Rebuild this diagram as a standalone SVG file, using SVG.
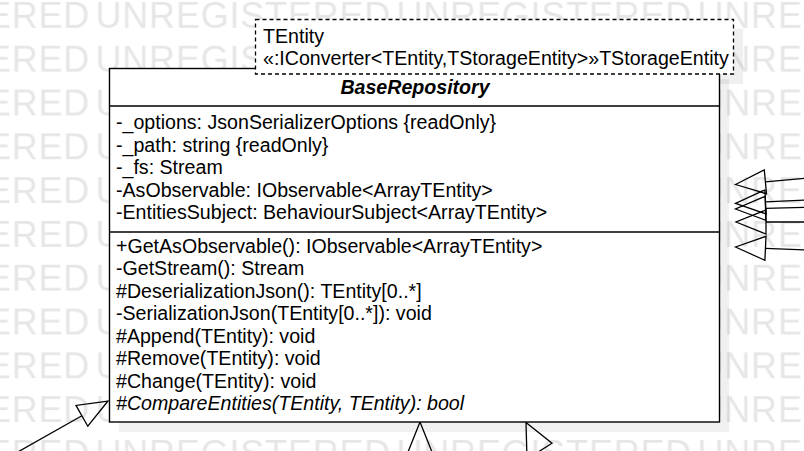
<svg xmlns="http://www.w3.org/2000/svg" width="804" height="451" viewBox="0 0 804 451">
<style>
.t{font-family:"Liberation Sans",Arial,sans-serif;font-size:19.6px;fill:#000}
.b{font-weight:bold;font-style:italic}
.i{font-style:italic}
.wm{font-family:"Liberation Sans",Arial,sans-serif;font-size:36px;letter-spacing:0.8px;fill:#e6e6e6}
.edge{stroke:#000;stroke-width:1.3;fill:none}
.head{fill:none;stroke:#000;stroke-width:1.3;stroke-linejoin:miter}
.shadow{fill:#000;fill-opacity:0.06}
.box{fill:#fff;stroke:#000;stroke-width:1.4}
.tpl{fill:#fff;stroke:#000;stroke-width:1.3;stroke-dasharray:4 3}
.sep{stroke:#000;stroke-width:1.4}
</style>
<defs>
<pattern id="wmp" x="95.5" y="-3" width="301" height="43.8" patternUnits="userSpaceOnUse">
<text class="wm" x="0" y="30.5">UNREGISTERED</text>
</pattern>
</defs>
<rect width="804" height="451" fill="#fff"/>
<g id="watermark"><rect width="804" height="451" fill="url(#wmp)"/></g>
<g id="connectors">
<line class="edge" x1="81.9" y1="415.8" x2="3.6" y2="460"/>
<polygon class="head" points="108,401 87.8,426.2 76,405.4"/>
<line class="edge" x1="420" y1="452" x2="420" y2="470"/>
<polygon class="head" points="420,422 408,452 432,452"/>
<line class="edge" x1="539.5" y1="451.2" x2="555" y2="480"/>
<polygon class="head" points="526,422.5 552,443.3 527,459"/>
<line class="edge" x1="765.4" y1="181.8" x2="830" y2="176"/>
<polygon class="head" points="735.5,184.5 766.5,193.8 764.3,169.9"/>
<line class="edge" x1="765.5" y1="201.9" x2="830" y2="198.8"/>
<polygon class="head" points="735.5,203.3 766,213.9 764.9,189.9"/>
<line class="edge" x1="765.5" y1="208.3" x2="830" y2="206.9"/>
<polygon class="head" points="735.5,209 765.8,220.3 765.2,196.3"/>
<line class="edge" x1="766" y1="222" x2="830" y2="222"/>
<polygon class="head" points="736,222 766,234 766,210"/>
<line class="edge" x1="765.5" y1="248.3" x2="830" y2="251.1"/>
<polygon class="head" points="735.5,247 764.9,260.3 766,236.3"/>
</g>
<g id="BaseRepository">
<rect class="shadow" x="119" y="79" width="610" height="353"/>
<rect class="shadow" x="265" y="29" width="478" height="55"/>
<rect class="box" x="109.5" y="68.5" width="610" height="353.5"/>
<line class="sep" x1="109.5" y1="106" x2="719.5" y2="106"/>
<line class="sep" x1="109.5" y1="232" x2="719.5" y2="232"/>
<text class="t b" x="415" y="94" text-anchor="middle">BaseRepository</text>
<text class="t" x="116" y="129">-_options: JsonSerializerOptions {readOnly}</text>
<text class="t" x="116" y="151.5">-_path: string {readOnly}</text>
<text class="t" x="116" y="174">-_fs: Stream</text>
<text class="t" x="116" y="196.5">-AsObservable: IObservable&lt;ArrayTEntity&gt;</text>
<text class="t" x="116" y="219">-EntitiesSubject: BehaviourSubject&lt;ArrayTEntity&gt;</text>
<text class="t" x="116" y="252.5">+GetAsObservable(): IObservable&lt;ArrayTEntity&gt;</text>
<text class="t" x="116" y="275">-GetStream(): Stream</text>
<text class="t" x="116" y="297.5">#DeserializationJson(): TEntity[0..*]</text>
<text class="t" x="116" y="320">-SerializationJson(TEntity[0..*]): void</text>
<text class="t" x="116" y="342.5">#Append(TEntity): void</text>
<text class="t" x="116" y="365">#Remove(TEntity): void</text>
<text class="t" x="116" y="387.5">#Change(TEntity): void</text>
<text class="t i" x="116" y="410">#CompareEntities(TEntity, TEntity): bool</text>
<rect class="tpl" x="255.5" y="19.5" width="478" height="54.5"/>
<text class="t" x="263" y="42.5">TEntity</text>
<text class="t" x="263" y="64.5">«:IConverter&lt;TEntity,TStorageEntity&gt;»TStorageEntity</text>
</g>
</svg>
